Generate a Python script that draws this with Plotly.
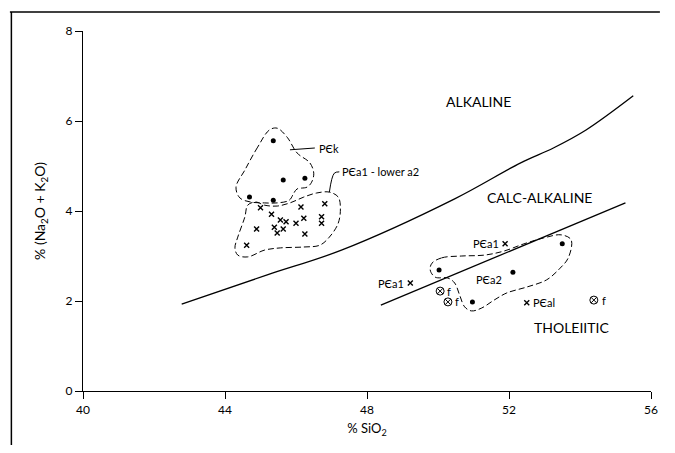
import plotly.graph_objects as go

# ---- data ----
# alkaline / subalkaline boundary curve
alk_x = [42.78, 45.19, 47.28, 50.47, 52.33, 53.25, 54.17, 55.5]
alk_y = [1.93, 2.58, 3.13, 4.27, 5.07, 5.40, 5.80, 6.56]
# calc-alkaline / tholeiitic boundary line
tho_x = [48.39, 55.28]
tho_y = [1.91, 4.18]

# PЄk (dots)
pek_x = [44.69, 45.36, 45.64, 46.25, 45.36]
pek_y = [4.31, 4.24, 4.69, 4.73, 5.56]
# PЄa1 - lower a2 (crosses)
pea_x = [45.00, 45.31, 45.56, 45.72, 45.39, 45.64, 45.47, 46.00, 46.22, 46.14,
         46.81, 46.72, 46.72, 44.89, 46.25, 44.61]
pea_y = [4.07, 3.93, 3.80, 3.76, 3.64, 3.60, 3.51, 3.73, 3.84, 4.09,
         4.16, 3.87, 3.73, 3.60, 3.49, 3.24]
# lower group
dot2_x = [50.03, 52.11, 50.97, 53.5]
dot2_y = [2.69, 2.64, 1.98, 3.27]
cross2_x = [49.22, 51.89, 52.5]
cross2_y = [2.40, 3.27, 1.96]
f_x = [50.06, 50.28, 54.39]
f_y = [2.22, 1.98, 2.02]

# dashed outlines
outk_x = [45.25, 44.92, 44.56, 44.31, 44.42, 44.72, 45.11, 45.47, 45.81, 45.94,
          46.03, 46.31, 46.44, 46.50, 46.39, 46.03, 45.75, 45.47, 45.25]
outk_y = [5.80, 5.42, 4.91, 4.53, 4.29, 4.20, 4.18, 4.18, 4.24, 4.40,
          4.49, 4.53, 4.64, 4.84, 5.07, 5.29, 5.64, 5.84, 5.80]
outa_x = [44.64, 44.86, 45.11, 45.47, 45.83, 46.22, 46.58, 46.94, 47.19, 47.25,
          47.19, 46.94, 46.67, 46.22, 45.56, 45.11, 44.64, 44.36, 44.28, 44.36,
          44.56, 44.64]
outa_y = [4.13, 4.20, 4.13, 4.11, 4.18, 4.31, 4.40, 4.42, 4.31, 4.07,
          3.73, 3.42, 3.24, 3.20, 3.18, 3.13, 2.98, 3.02, 3.18, 3.42,
          3.87, 4.13]
outb_x = [49.83, 50.11, 50.67, 51.31, 51.86, 52.42, 52.97, 53.47, 53.75, 53.67,
          53.44, 53.06, 52.50, 51.94, 51.58, 51.22, 50.94, 50.75, 50.61, 50.47,
          50.28, 49.92, 49.78, 49.83]
outb_y = [2.84, 2.96, 3.00, 3.02, 3.11, 3.27, 3.40, 3.47, 3.36, 2.96,
          2.73, 2.47, 2.31, 2.18, 2.02, 1.84, 1.78, 1.87, 2.13, 2.40,
          2.51, 2.53, 2.69, 2.84]
# label leader lines
leadk_x = [45.83, 46.53]
leadk_y = [5.36, 5.40]
leada_x = [47.22, 47.08, 46.94]
leada_y = [4.87, 4.84, 4.42]

x_ticks = [40, 44, 48, 52, 56]
y_ticks = [0, 2, 4, 6, 8]

FONT = "Lato"
fig = go.Figure()

line_style = dict(color="black", width=1.3)
fig.add_trace(go.Scatter(x=alk_x, y=alk_y, mode="lines", line=dict(shape="spline", **line_style)))
fig.add_trace(go.Scatter(x=tho_x, y=tho_y, mode="lines", line=line_style))

dash = dict(color="black", width=1, dash="6px,3px", shape="spline", smoothing=1.0)
for ox, oy in [(outk_x, outk_y), (outa_x, outa_y), (outb_x, outb_y)]:
    fig.add_trace(go.Scatter(x=ox, y=oy, mode="lines", line=dash))
for lx, ly in [(leadk_x, leadk_y), (leada_x, leada_y)]:
    fig.add_trace(go.Scatter(x=lx, y=ly, mode="lines",
                             line=dict(color="black", width=1, shape="spline")))

dot = dict(symbol="circle", size=5, color="black")
cross = dict(symbol="x-thin", size=5, color="black", line=dict(width=1.4, color="black"))
fig.add_trace(go.Scatter(x=pek_x, y=pek_y, mode="markers", marker=dot))
fig.add_trace(go.Scatter(x=pea_x, y=pea_y, mode="markers", marker=cross))
fig.add_trace(go.Scatter(x=dot2_x, y=dot2_y, mode="markers", marker=dot))
fig.add_trace(go.Scatter(x=cross2_x, y=cross2_y, mode="markers", marker=cross))
fig.add_trace(go.Scatter(x=f_x, y=f_y, mode="markers",
                         marker=dict(symbol="circle-x-open", size=8, color="black",
                                     line=dict(width=1, color="black"))))

anns = []
def lab(x, y, t, size=11, xanchor="left"):
    anns.append(dict(x=x, y=y, text=t, showarrow=False, xanchor=xanchor, yanchor="middle",
                     font=dict(family=FONT, size=size, color="black")))

lab(51.14, 6.44, "ALKALINE", 14, "center")
lab(52.86, 4.29, "CALC-ALKALINE", 14, "center")
lab(53.75, 1.42, "THOLEIITIC", 14, "center")
lab(46.6, 5.40, "PЄk", 11)
lab(47.25, 4.87, "PЄa1 - lower a2", 11)
lab(49.1, 2.40, "PЄa1", 11, "right")
lab(51.78, 3.27, "PЄa1", 11, "right")
lab(51.0, 2.47, "PЄa2", 11)
lab(52.62, 1.96, "PЄal", 11)
lab(50.2, 2.22, "f", 11)
lab(50.42, 1.98, "f", 11)
lab(54.55, 2.02, "f", 11)

# figure placed inside the page's 8px body margin: plot area 575x360
L, T, PW, PH = 75, 23, 575, 360
fig.update_layout(
    width=659, height=437,
    margin=dict(l=L, r=659 - L - PW, t=T, b=437 - T - PH),
    plot_bgcolor="white", paper_bgcolor="white",
    showlegend=False,
    annotations=anns,
    font=dict(family=FONT, color="black"),
    shapes=[
        dict(type="line", xref="paper", yref="paper", x0=(2.5 - L) / PW, x1=(2.5 - L) / PW,
             y0=-(437 - T - PH) / PH, y1=1 + (T - 4) / PH, line=dict(color="black", width=1.5)),
        dict(type="line", xref="paper", yref="paper", x0=(1 - L) / PW, x1=(659 - L) / PW,
             y0=1 + (T - 4) / PH, y1=1 + (T - 4) / PH, line=dict(color="black", width=1.5)),
    ],
)
fig.update_xaxes(range=[40, 56], tickvals=x_ticks, ticktext=[str(v) for v in x_ticks],
                 showgrid=False, zeroline=False, showline=True, linecolor="black", linewidth=1.2,
                 ticks="outside", ticklen=7, tickcolor="black", tickwidth=1,
                 tickfont=dict(family=FONT, size=12),
                 title=dict(text="% SiO<sub>2</sub>", font=dict(family=FONT, size=13), standoff=8))
fig.update_yaxes(range=[0, 8], tickvals=y_ticks, ticktext=[str(v) for v in y_ticks],
                 showgrid=False, zeroline=False, showline=True, linecolor="black", linewidth=1.2,
                 ticks="outside", ticklen=7, tickcolor="black", tickwidth=1,
                 tickfont=dict(family=FONT, size=12),
                 title=dict(text="% (Na<sub>2</sub>O + K<sub>2</sub>O)", font=dict(family=FONT, size=14),
                            standoff=16))
fig.write_html("out.html")
